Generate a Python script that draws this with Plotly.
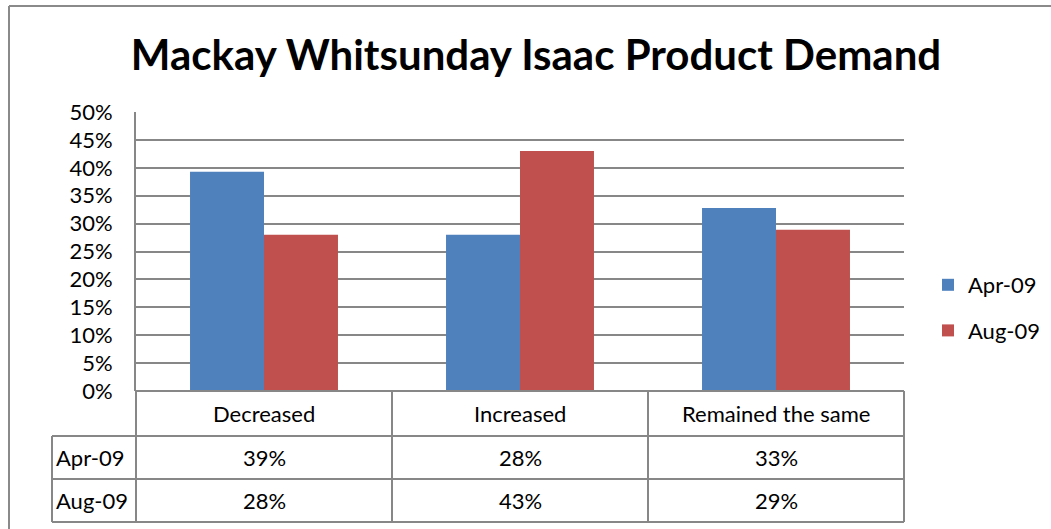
import plotly.graph_objects as go

categories = ["Decreased", "Increased", "Remained the same"]
series_names = ["Apr-09", "Aug-09"]
apr_values = [0.393, 0.28, 0.328]
aug_values = [0.28, 0.43, 0.289]
colors = ["#4F81BD", "#C0504D"]
tick_vals = [0, 0.05, 0.10, 0.15, 0.20, 0.25, 0.30, 0.35, 0.40, 0.45, 0.50]
tick_text = ["0%", "5%", "10%", "15%", "20%", "25%", "30%", "35%", "40%", "45%", "50%"]

W, H = 1051, 529
# plot area in screen pixels
L, R, T, B = 136, 904, 112, 391
FONT = "Lato"
GRID = "#878787"
FS = 22

def xp(px):  # px -> paper
    return (px - L) / (R - L)

def yp(py):
    return (B - py) / (B - T)

xpos = list(range(len(categories)))

fig = go.Figure()
for i, (name, vals) in enumerate(zip(series_names, [apr_values, aug_values])):
    fig.add_trace(go.Bar(
        x=xpos, y=vals, name=name, marker=dict(color=colors[i], line=dict(width=0)),
        legendgroup=name, hoverinfo="skip",
    ))

shapes = []
def line(x0, y0, x1, y1, color=GRID, width=2):
    shapes.append(dict(type="line", xref="paper", yref="paper",
                       x0=xp(x0), y0=yp(y0), x1=xp(x1), y1=yp(y1),
                       line=dict(color=color, width=width), layer="above"))

# outer chart border
line(9, 6, 1070, 6, color="#8a8a8a", width=2)
line(9, 6, 9, 560, color="#8a8a8a", width=2)

# data table grid
row_y = [391, 436, 479, 522]
col_x = [136, 392, 648, 904]
line(136, 391, 904, 391)
for y in row_y[1:]:
    line(52, y, 904, y)
line(52, 436, 52, 522)
for x in col_x:
    line(x, 391, x, 522)

annotations = []
tfont = dict(family=FONT, size=FS, color="#000000")
for i, c in enumerate(categories):
    annotations.append(dict(x=i, xref="x", y=yp(413.5), yref="paper", text=c,
                            showarrow=False, font=tfont, xanchor="center", yanchor="middle"))
for r, (name, vals) in enumerate(zip(series_names, [apr_values, aug_values])):
    ymid = yp((row_y[r + 1] + row_y[r + 2]) / 2)
    annotations.append(dict(x=xp(54), xref="paper", y=ymid, yref="paper", text=name,
                            showarrow=False, font=tfont, xanchor="left", yanchor="middle"))
    for i, v in enumerate(vals):
        annotations.append(dict(x=i, xref="x", y=ymid, yref="paper", text=f"{round(v*100):d}%",
                                showarrow=False, font=tfont, xanchor="center", yanchor="middle"))

fig.update_layout(
    width=W, height=H,
    margin=dict(l=L, r=W - R, t=T, b=H - B, autoexpand=False),
    paper_bgcolor="white", plot_bgcolor="white",
    font=dict(family=FONT, size=FS, color="#000000"),
    title=dict(text="<b>Mackay Whitsunday Isaac Product Demand</b>",
               x=536 / W, xref="container", xanchor="center",
               y=1 - 55 / H, yref="container", yanchor="middle",
               font=dict(family=FONT, size=42, color="#000000")),
    barmode="group", bargap=0.422, bargroupgap=0,
    xaxis=dict(range=[-0.5, 2.5], showticklabels=False, showgrid=False, zeroline=False,
               showline=False, ticks="", fixedrange=True),
    yaxis=dict(range=[0, 0.5], tickvals=tick_vals, ticktext=tick_text, showgrid=True,
               gridcolor=GRID, gridwidth=2, zeroline=False, showline=True, linecolor=GRID,
               linewidth=2, ticks="", ticklabelstandoff=17, fixedrange=True,
               tickfont=dict(family=FONT, size=FS, color="#000000")),
    legend=dict(x=xp(928), xref="paper", y=yp(308), yref="paper", yanchor="middle",
                xanchor="left", traceorder="grouped", tracegroupgap=14,
                font=dict(family=FONT, size=FS, color="#000000"), bgcolor="rgba(0,0,0,0)"),
    showlegend=True,
    shapes=shapes, annotations=annotations,
)

fig.write_html("out.html", config={"displayModeBar": False},
               post_script="document.body.style.margin='0px';")
